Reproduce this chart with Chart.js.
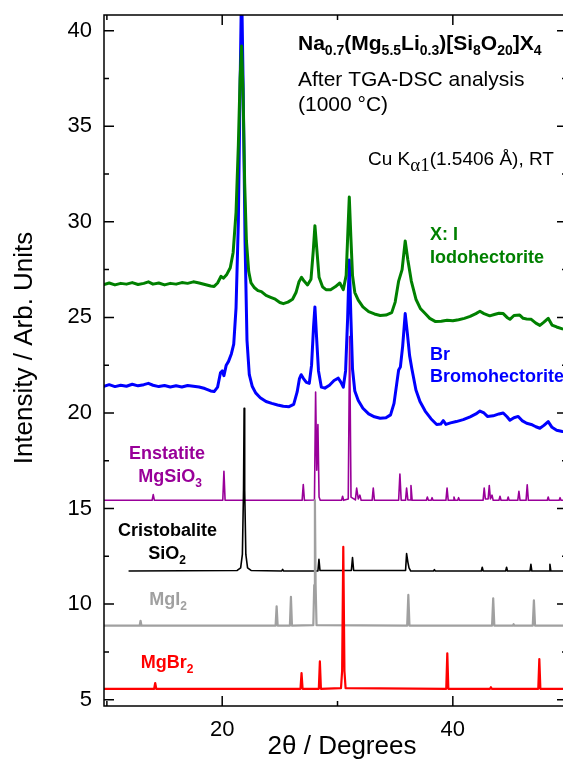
<!DOCTYPE html>
<html>
<head>
<meta charset="utf-8">
<script src="https://cdn.jsdelivr.net/npm/chart.js@4.4.1/dist/chart.umd.min.js"></script>
<style>
  html, body { margin: 0; padding: 0; overflow: hidden; background: #fff; }
  #wrap { width: 580px; height: 760px; }
</style>
</head>
<body>
<div id="wrap"><canvas id="xrd" width="580" height="760"></canvas></div>
<script>
// Measured powder patterns: [2θ (deg), intensity (arb. units, offset)]
const iodohectorite = [
  [9.75,26.72],[10.2,26.80],[10.7,26.70],[11.2,26.78],[11.7,26.74],[12.2,26.82],[12.7,26.72],[13.2,26.78],
  [13.6,26.86],[14.0,26.74],[14.5,26.80],[15.0,26.70],[15.5,26.78],[16.0,26.74],[16.5,26.82],[17.0,26.78],
  [17.5,26.86],[18.0,26.80],[18.5,26.72],[19.0,26.64],[19.3,26.62],[19.6,26.80],[19.9,27.15],[20.1,27.05],
  [20.4,27.25],[20.7,27.6],[20.95,28.4],[21.2,30.5],[21.4,34.0],[21.55,37.5],[21.68,39.2],[21.8,37.0],
  [21.95,32.0],[22.1,29.0],[22.3,27.4],[22.5,26.8],[22.8,26.55],[23.1,26.4],[23.4,26.35],[23.8,26.15],
  [24.2,26.05],[24.6,25.95],[25.0,25.78],[25.3,25.72],[25.7,25.8],[26.1,25.95],[26.4,26.3],[26.65,26.85],
  [26.88,27.1],[27.1,26.9],[27.4,26.7],[27.7,27.0],[27.9,28.5],[28.04,29.8],[28.2,28.6],[28.4,27.1],
  [28.7,26.6],[29.0,26.45],[29.4,26.45],[29.8,26.6],[30.2,26.8],[30.5,26.45],[30.75,27.2],[30.9,29.5],
  [31.02,31.3],[31.15,29.3],[31.3,27.2],[31.5,26.3],[31.8,25.9],[32.2,25.55],[32.7,25.3],[33.2,25.18],
  [33.7,25.1],[34.2,25.12],[34.7,25.25],[35.0,25.8],[35.3,26.9],[35.6,27.5],[35.87,29.0],[36.1,28.0],
  [36.4,26.9],[36.8,25.95],[37.2,25.45],[37.6,25.2],[38.0,24.95],[38.5,24.78],[39.0,24.8],[39.5,24.85],
  [40.0,24.82],[40.5,24.88],[41.0,24.95],[41.5,25.05],[42.0,25.2],[42.35,25.32],[42.7,25.2],[43.2,25.08],
  [43.6,25.15],[44.0,25.22],[44.37,25.2],[44.7,25.0],[44.95,24.9],[45.3,25.1],[45.8,25.12],[46.1,24.95],
  [46.4,24.92],[46.8,24.9],[47.2,24.7],[47.55,24.58],[47.9,24.75],[48.27,24.95],[48.6,24.6],[49.0,24.5],
  [49.5,24.4],[49.9,24.35]
];

const bromohectorite = [
  [9.75,21.40],[10.2,21.48],[10.7,21.38],[11.2,21.45],[11.7,21.40],[12.2,21.50],[12.7,21.42],[13.2,21.48],
  [13.6,21.55],[14.0,21.45],[14.5,21.38],[15.0,21.44],[15.5,21.36],[16.0,21.42],[16.5,21.36],[17.0,21.44],
  [17.5,21.40],[18.0,21.36],[18.5,21.28],[19.0,21.15],[19.3,21.12],[19.6,21.35],[19.85,22.1],[20.0,22.2],
  [20.15,21.95],[20.35,22.5],[20.55,22.7],[20.8,23.1],[21.0,23.6],[21.2,25.5],[21.4,30.0],[21.55,37.0],
  [21.68,42.5],[21.82,37.0],[21.98,29.0],[22.15,23.8],[22.35,22.0],[22.6,21.4],[22.9,21.05],[23.3,20.8],
  [23.8,20.6],[24.3,20.5],[24.8,20.42],[25.3,20.35],[25.8,20.33],[26.2,20.45],[26.5,21.1],[26.7,21.8],
  [26.85,22.0],[27.05,21.8],[27.3,21.6],[27.55,21.55],[27.75,22.5],[27.92,24.5],[28.04,25.55],[28.18,24.0],
  [28.35,22.2],[28.6,21.35],[28.9,21.3],[29.3,21.45],[29.7,21.7],[30.07,21.82],[30.3,21.6],[30.5,21.35],
  [30.7,22.2],[30.88,25.0],[31.02,28.0],[31.16,25.0],[31.3,22.3],[31.5,21.15],[31.8,20.65],[32.2,20.25],
  [32.7,19.95],[33.2,19.8],[33.7,19.72],[34.2,19.75],[34.6,19.9],[34.9,20.5],[35.15,21.6],[35.3,22.25],
  [35.45,22.4],[35.65,23.5],[35.87,25.2],[36.05,24.2],[36.25,23.0],[36.45,22.3],[36.8,21.2],[37.15,20.6],
  [37.6,20.1],[38.1,19.7],[38.6,19.4],[38.95,19.42],[39.17,19.6],[39.4,19.4],[39.8,19.48],[40.3,19.55],
  [40.9,19.65],[41.5,19.8],[42.0,19.95],[42.35,20.1],[42.7,20.0],[43.0,19.82],[43.5,19.85],[44.0,19.95],
  [44.37,20.0],[44.7,19.8],[44.95,19.62],[45.3,19.75],[45.67,19.82],[46.0,19.6],[46.4,19.46],[46.8,19.4],
  [47.2,19.28],[47.55,19.2],[47.9,19.35],[48.27,19.55],[48.6,19.25],[49.0,19.1],[49.5,19.03],[49.9,19.0]
];

// Reference phases (calculated patterns, offset)
const enstatite = [
  [9.75,15.43],[13.92,15.43],[14.02,15.73],[14.12,15.43],[20.05,15.43],[20.15,16.95],[20.25,15.43],
  [26.93,15.43],[27.03,16.25],[27.13,15.43],[28.0,15.45],[28.1,21.1],[28.2,17.0],[28.3,19.4],[28.4,15.6],
  [28.5,15.43],[30.35,15.43],[30.44,15.64],[30.53,15.43],[30.93,15.5],[31.05,24.0],[31.17,15.6],[31.55,15.45],
  [31.66,16.07],[31.8,15.5],[31.94,15.7],[32.05,15.43],[33.0,15.43],[33.1,16.07],[33.2,15.43],[35.3,15.43],
  [35.41,16.8],[35.52,15.43],[35.9,15.43],[35.99,16.07],[36.1,15.45],[36.3,15.45],[36.37,16.2],[36.47,15.43],
  [37.7,15.43],[37.79,15.6],[37.88,15.43],[38.12,15.43],[38.2,15.57],[38.28,15.43],[39.4,15.43],[39.5,16.07],
  [39.6,15.43],[40.02,15.43],[40.1,15.6],[40.18,15.43],[40.42,15.43],[40.5,15.57],[40.58,15.43],[42.62,15.43],
  [42.72,16.07],[42.82,15.5],[43.06,15.5],[43.16,16.2],[43.26,15.5],[43.4,15.7],[43.5,15.43],[44.0,15.43],
  [44.09,15.64],[44.18,15.43],[44.72,15.43],[44.8,15.6],[44.88,15.43],[45.63,15.43],[45.73,15.9],[45.83,15.43],
  [46.35,15.43],[46.45,16.24],[46.55,15.43],[48.19,15.43],[48.27,15.6],[48.35,15.43],[49.22,15.43],[49.3,15.57],
  [49.38,15.43],[49.9,15.43]
];

const cristobalite = [
  [11.93,11.73],[21.3,11.76],[21.6,11.9],[21.75,12.6],[21.85,16.0],[21.9,20.25],[21.95,16.0],[22.05,12.6],
  [22.2,11.9],[22.5,11.76],[25.15,11.73],[25.24,11.82],[25.33,11.73],[28.3,11.73],[28.39,12.34],[28.48,11.76],
  [31.2,11.76],[31.3,12.43],[31.4,11.76],[35.9,11.76],[35.99,12.64],[36.1,12.2],[36.2,11.9],[36.35,11.73],
  [38.32,11.73],[38.4,11.8],[38.48,11.73],[42.47,11.73],[42.55,11.93],[42.63,11.73],[44.58,11.73],[44.66,11.93],
  [44.74,11.73],[46.69,11.73],[46.77,12.08],[46.85,11.73],[48.34,11.73],[48.42,12.08],[48.5,11.73],[49.9,11.73]
];

const magnesiumIodide = [
  [9.75,8.87],[12.84,8.87],[12.92,9.13],[13.0,8.87],[24.63,8.87],[24.72,9.88],[24.81,8.87],[25.87,8.87],
  [25.96,10.38],[26.05,8.87],[27.9,8.9],[27.98,11.0],[28.04,15.43],[28.1,11.0],[28.18,8.9],[36.04,8.87],
  [36.14,10.48],[36.24,8.87],[43.4,8.87],[43.5,10.3],[43.6,8.87],[45.2,8.87],[45.27,8.95],[45.34,8.87],
  [46.93,8.87],[47.03,10.2],[47.13,8.87],[49.9,8.87]
];

const magnesiumBromide = [
  [9.75,5.57],[14.1,5.57],[14.19,5.87],[14.28,5.57],[26.79,5.57],[26.88,6.39],[26.97,5.57],[28.38,5.57],
  [28.47,7.0],[28.56,5.57],[30.3,5.6],[30.4,6.5],[30.5,13.0],[30.6,6.5],[30.7,5.6],[39.43,5.57],[39.52,7.43],
  [39.61,5.57],[43.22,5.57],[43.3,5.65],[43.38,5.57],[47.41,5.57],[47.5,7.13],[47.59,5.57],[49.9,5.57]
];

// Axis ranges and tick labels
const twoThetaRange = [9.75, 49.9];
const intensityRange = [4.67, 40.82];
const twoThetaLabels = [20, 40];

const SANS = '"Liberation Sans", Arial, Helvetica, sans-serif';
const SERIF = '"Liberation Serif", "Times New Roman", serif';
Chart.defaults.font.family = SANS;
Chart.defaults.color = '#000';

function line(data, color, width) {
  return { data, borderColor: color, backgroundColor: color, borderWidth: width,
           pointRadius: 0, tension: 0, fill: false, borderJoinStyle: 'round', borderCapStyle: 'round' };
}

// Text made of runs with their own font and vertical shift (for subscripts)
function font(p) {
  return (p.b ? 'bold ' : '') + p.s + 'px ' + (p.f || SANS);
}
function drawRuns(ctx, x, y, parts, align, color) {
  ctx.save();
  ctx.fillStyle = color;
  ctx.textBaseline = 'alphabetic';
  ctx.textAlign = 'left';
  let w = 0;
  parts.forEach(p => { ctx.font = font(p); w += ctx.measureText(p.t).width; });
  let cx = align === 'center' ? x - w / 2 : x;
  parts.forEach(p => {
    ctx.font = font(p);
    ctx.fillText(p.t, cx, y + (p.dy || 0));
    cx += ctx.measureText(p.t).width;
  });
  ctx.restore();
}
function sub(t, s, b) { return { t, s, b, dy: 5 }; }

const frameAndText = {
  id: 'frameAndText',
  afterDraw(chart) {
    const { ctx, chartArea: a, scales } = chart;
    const xs = scales.x, ys = scales.y;
    ctx.save();
    ctx.strokeStyle = '#000';
    ctx.lineWidth = 1.5;
    ctx.strokeRect(a.left, a.top, a.right - a.left, a.bottom - a.top);

    // inward ticks on all four sides
    ctx.beginPath();
    xs.ticks.forEach(t => {
      const px = xs.getPixelForValue(t.value);
      const len = t.value % 20 === 0 ? 10 : 5;
      ctx.moveTo(px, a.bottom); ctx.lineTo(px, a.bottom - len);
      ctx.moveTo(px, a.top); ctx.lineTo(px, a.top + len);
    });
    ys.ticks.forEach(t => {
      [t.value, t.value + 2.5].forEach((v, i) => {
        if (v > ys.max) return;
        const py = ys.getPixelForValue(v);
        const len = i === 0 ? 10 : 5;
        ctx.moveTo(a.left, py); ctx.lineTo(a.left + len, py);
        ctx.moveTo(a.right, py); ctx.lineTo(a.right - len, py);
      });
    });
    ctx.stroke();
    ctx.restore();

    // axis titles
    ctx.save();
    ctx.fillStyle = '#000';
    ctx.font = '26px ' + SANS;
    ctx.textAlign = 'center';
    ctx.textBaseline = 'alphabetic';
    ctx.fillText('2\u03B8 / Degrees', 342, 754);
    ctx.translate(32, 348);
    ctx.rotate(-Math.PI / 2);
    ctx.fillText('Intensity / Arb. Units', 0, 0);
    ctx.restore();

    // sample description
    const B = 21, S = 14;
    drawRuns(ctx, 298, 50, [
      { t: 'Na', s: B, b: 1 }, sub('0.7', S, 1), { t: '(Mg', s: B, b: 1 }, sub('5.5', S, 1),
      { t: 'Li', s: B, b: 1 }, sub('0.3', S, 1), { t: ')[Si', s: B, b: 1 }, sub('8', S, 1),
      { t: 'O', s: B, b: 1 }, sub('20', S, 1), { t: ']X', s: B, b: 1 }, sub('4', S, 1)
    ], 'left', '#000');
    drawRuns(ctx, 298, 86, [{ t: 'After TGA-DSC analysis', s: 21 }], 'left', '#000');
    drawRuns(ctx, 298, 111, [{ t: '(1000 \u00B0C)', s: 21 }], 'left', '#000');
    drawRuns(ctx, 368, 165, [
      { t: 'Cu K', s: 19 }, { t: '\u03B11', s: 19, f: SERIF, dy: 6 }, { t: '(1.5406 \u00C5), RT', s: 19 }
    ], 'left', '#000');

    // pattern labels
    const L = 18, LS = 12;
    drawRuns(ctx, 430, 240, [{ t: 'X: I', s: L, b: 1 }], 'left', '#008000');
    drawRuns(ctx, 430, 262.5, [{ t: 'Iodohectorite', s: L, b: 1 }], 'left', '#008000');
    drawRuns(ctx, 430, 360, [{ t: 'Br', s: L, b: 1 }], 'left', '#0000ff');
    drawRuns(ctx, 430, 382, [{ t: 'Bromohectorite', s: L, b: 1 }], 'left', '#0000ff');
    drawRuns(ctx, 167, 459, [{ t: 'Enstatite', s: L, b: 1 }], 'center', '#990099');
    drawRuns(ctx, 170, 482, [{ t: 'MgSiO', s: L, b: 1 }, sub('3', LS, 1)], 'center', '#990099');
    drawRuns(ctx, 167.5, 536, [{ t: 'Cristobalite', s: L, b: 1 }], 'center', '#000');
    drawRuns(ctx, 167, 559, [{ t: 'SiO', s: L, b: 1 }, sub('2', LS, 1)], 'center', '#000');
    drawRuns(ctx, 168, 605, [{ t: 'MgI', s: L, b: 1 }, sub('2', LS, 1)], 'center', '#a0a0a0');
    drawRuns(ctx, 167, 668, [{ t: 'MgBr', s: L, b: 1 }, sub('2', LS, 1)], 'center', '#ff0000');
  }
};

new Chart(document.getElementById('xrd'), {
  type: 'line',
  data: {
    datasets: [
      line(iodohectorite, '#008000', 3),
      line(bromohectorite, '#0000ff', 3),
      line(magnesiumBromide, '#ff0000', 2.2),
      line(magnesiumIodide, '#a0a0a0', 2.2),
      line(cristobalite, '#000000', 1.6),
      line(enstatite, '#990099', 1.6)
    ]
  },
  options: {
    responsive: false,
    animation: false,
    devicePixelRatio: 1,
    layout: { padding: { left: 0, right: 13, top: 15, bottom: 0 } },
    plugins: { legend: { display: false }, tooltip: { enabled: false } },
    scales: {
      x: {
        type: 'linear',
        min: twoThetaRange[0], max: twoThetaRange[1],
        grid: { display: false, drawTicks: false },
        border: { display: false },
        ticks: {
          stepSize: 10, includeBounds: false, autoSkip: false, maxRotation: 0,
          padding: 11, font: { size: 22 },
          callback: v => (twoThetaLabels.includes(v) ? String(v) : '')
        },
        afterFit: s => { s.height = 54; s.paddingLeft = 0; s.paddingRight = 0; }
      },
      y: {
        type: 'linear',
        min: intensityRange[0], max: intensityRange[1],
        grid: { display: false, drawTicks: false },
        border: { display: false },
        ticks: { stepSize: 5, includeBounds: false, padding: 12, font: { size: 22 } },
        afterFit: s => { s.width = 104; s.paddingTop = 0; s.paddingBottom = 0; }
      }
    }
  },
  plugins: [frameAndText]
});
</script>
</body>
</html>
